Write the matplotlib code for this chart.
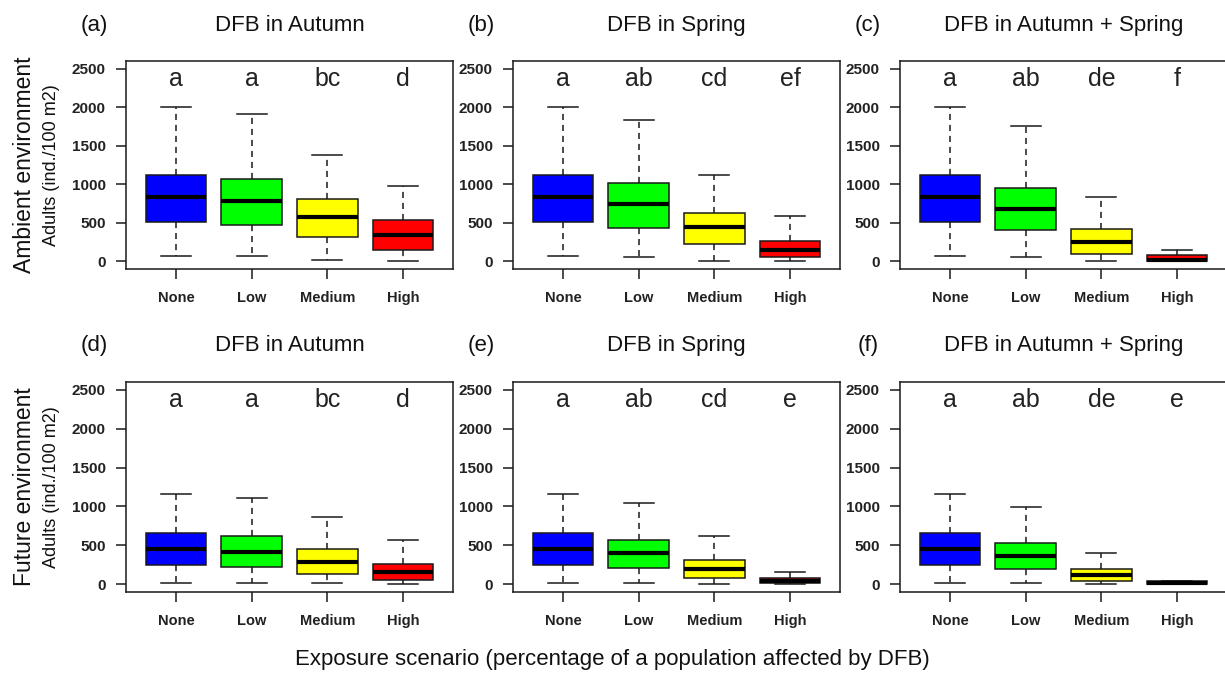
import matplotlib
matplotlib.use("Agg")
import matplotlib.pyplot as plt

plt.rcParams['font.family'] = ['Liberation Sans', 'DejaVu Sans']

categories = ["None", "Low", "Medium", "High"]
colors = ["#0000FF", "#00FF00", "#FFFF00", "#FF0000"]
yticks = [0, 500, 1000, 1500, 2000, 2500]

# Panel (a) Ambient, DFB in Autumn
a_lo = [73, 73, 22, 0]
a_q1 = [512, 471, 320, 151]
a_med = [836, 781, 570, 345]
a_q3 = [1122, 1062, 812, 531]
a_hi = [2005, 1915, 1385, 980]
a_letters = ["a", "a", "bc", "d"]

# Panel (b) Ambient, DFB in Spring
b_lo = [73, 56, 0, 0]
b_q1 = [512, 436, 225, 60]
b_med = [836, 743, 440, 151]
b_q3 = [1122, 1010, 626, 263]
b_hi = [2005, 1835, 1118, 587]
b_letters = ["a", "ab", "cd", "ef"]

# Panel (c) Ambient, DFB in Autumn + Spring
c_lo = [73, 56, 0, 0]
c_q1 = [512, 402, 91, 0]
c_med = [836, 682, 246, 22]
c_q3 = [1122, 950, 419, 78]
c_hi = [2005, 1762, 833, 147]
c_letters = ["a", "ab", "de", "f"]

# Panel (d) Future, DFB in Autumn
d_lo = [21, 21, 21, 0]
d_q1 = [244, 227, 133, 60]
d_med = [455, 420, 283, 159]
d_q3 = [665, 622, 455, 262]
d_hi = [1165, 1115, 870, 570]
d_letters = ["a", "a", "bc", "d"]

# Panel (e) Future, DFB in Spring
e_lo = [21, 21, 0, 0]
e_q1 = [244, 210, 77, 15]
e_med = [455, 399, 193, 45]
e_q3 = [665, 566, 309, 75]
e_hi = [1165, 1042, 622, 154]
e_letters = ["a", "ab", "cd", "e"]

# Panel (f) Future, DFB in Autumn + Spring
f_lo = [21, 21, 0, 0]
f_q1 = [244, 193, 43, 0]
f_med = [455, 364, 120, 15]
f_q3 = [665, 532, 193, 40]
f_hi = [1165, 999, 399, 40]
f_letters = ["a", "ab", "de", "e"]

panel_tags = ["(a)", "(b)", "(c)", "(d)", "(e)", "(f)"]
panel_titles = ["DFB in Autumn", "DFB in Spring", "DFB in Autumn + Spring"] * 2
row_labels = ["Ambient environment", "Future environment"]
y_label = "Adults (ind./100 m2)"
x_label = "Exposure scenario (percentage of a population affected by DFB)"

panels = [
    (a_lo, a_q1, a_med, a_q3, a_hi, a_letters),
    (b_lo, b_q1, b_med, b_q3, b_hi, b_letters),
    (c_lo, c_q1, c_med, c_q3, c_hi, c_letters),
    (d_lo, d_q1, d_med, d_q3, d_hi, d_letters),
    (e_lo, e_q1, e_med, e_q3, e_hi, e_letters),
    (f_lo, f_q1, f_med, f_q3, f_hi, f_letters),
]

W, H = 1225, 674
fig = plt.figure(figsize=(W / 100, H / 100), dpi=100)

col_left = [126, 513, 900]
col_w = 327
row_top = [61, 382]
row_h = [208, 210]
title_base = [30.7, 350.7]

edge = "#1a1a1a"
for i, (lo, q1, med, q3, hi, letters) in enumerate(panels):
    r, c = divmod(i, 3)
    l = col_left[c]
    t = row_top[r]
    h = row_h[r]
    ax = fig.add_axes([l / W, 1 - (t + h) / H, col_w / W, h / H])
    stats = []
    for k in range(4):
        stats.append(dict(whislo=lo[k], q1=q1[k], med=med[k], q3=q3[k],
                          whishi=hi[k], fliers=[], label=categories[k]))
    bp = ax.bxp(stats, positions=[1, 2, 3, 4], widths=0.8, patch_artist=True,
                showfliers=False,
                boxprops=dict(edgecolor=edge, linewidth=1.1),
                medianprops=dict(color="black", linewidth=3.0, solid_capstyle="butt"),
                whiskerprops=dict(color=edge, linewidth=1.1, linestyle=(0, (4.0, 3.2))),
                capprops=dict(color=edge, linewidth=1.1))
    for patch, col in zip(bp["boxes"], colors):
        patch.set_facecolor(col)
    for k, lab in enumerate(letters):
        ax.text(k + 1, 2280, lab, ha="center", va="baseline", fontsize=18,
                color="#222222")
    ax.set_xlim(0.34, 4.66)
    ax.set_ylim(-100, 2600)
    ax.set_yticks(yticks)
    ax.set_yticklabels([str(v) for v in yticks], fontweight="bold")
    ax.set_xticks([1, 2, 3, 4])
    ax.set_xticklabels(categories, fontweight="bold")
    ax.tick_params(axis="both", direction="out", length=7.5, width=1.1,
                   color=edge, labelsize=11, labelcolor="#222222")
    ax.tick_params(axis="x", pad=8, labelsize=10.5)
    ax.tick_params(axis="y", pad=7)
    for s in ax.spines.values():
        s.set_linewidth(1.1)
        s.set_color(edge)
    cx = (l + col_w / 2) / W
    fig.text(cx, 1 - title_base[r] / H, panel_titles[i], ha="center",
             va="baseline", fontsize=16, color="#111111")
    fig.text((l - 32) / W, 1 - title_base[r] / H, panel_tags[i], ha="center",
             va="baseline", fontsize=16, color="#111111")

for r in range(2):
    cy = 1 - (row_top[r] + row_h[r] / 2) / H
    fig.text(25 / W, cy, row_labels[r], rotation=90, ha="center", va="center",
             fontsize=16.5, color="#111111")
    fig.text(52 / W, cy, y_label, rotation=90, ha="center", va="center",
             fontsize=13, color="#111111")

fig.text(0.5, 1 - 659 / H, x_label, ha="center", va="center", fontsize=16,
         color="#111111")

fig.savefig("out.png", dpi=100)
